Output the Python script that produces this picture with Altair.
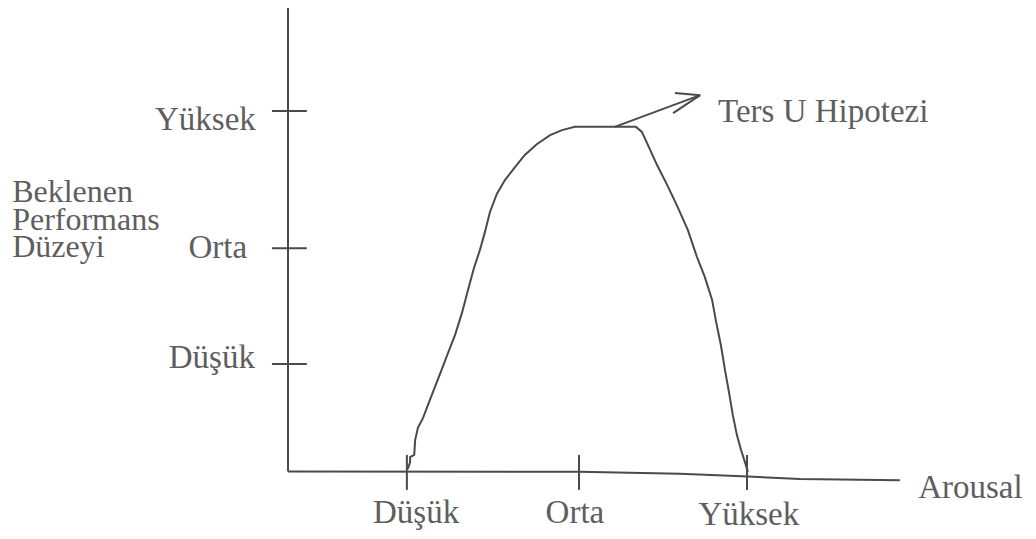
import altair as alt
import pandas as pd

# ---------------- data (arbitrary 0-100 units: 100 = "Yüksek") ----------------
arousal = [26.1, 26.6, 26.6, 27.5, 27.7, 28.3, 29.4, 30.9, 33.1, 34.6, 36.4, 37.9,
           39.2, 40.5, 41.8, 42.9, 44.0, 45.5, 47.3, 49.5, 51.6, 54.2, 57.1, 59.7,
           62.5, 75.8, 77.1, 78.9, 80.4, 82.6, 84.7, 87.1, 89.1, 90.8, 92.4, 93.2,
           94.3, 95.2, 96.1, 96.9, 97.8, 98.7, 99.6, 100.2]
performance = [0.7, 2.6, 4.0, 4.6, 8.7, 12.1, 14.8, 19.8, 27.0, 32.0, 37.9, 44.0,
               50.3, 56.4, 61.4, 66.4, 72.0, 77.0, 80.9, 84.5, 87.8, 90.8, 93.3, 94.7,
               95.6, 95.6, 94.2, 89.2, 85.0, 79.5, 73.9, 67.0, 59.5, 54.0, 47.6, 42.0,
               35.1, 28.2, 21.8, 15.7, 10.1, 6.0, 2.4, -0.1]

levels = ["Düşük", "Orta", "Yüksek"]
x_tick_values = [25.9, 63.4, 100.0]
y_tick_values = [29.8, 61.9, 100.0]

# label anchors (data units)
x_label_x = [27.9, 62.5, 100.4]
x_label_y = [-14.3, -14.3, -14.9]
y_label_x = [-7.2, -8.9, -7.0]
y_label_y = [28.7, 59.2, 94.7]

y_title_lines = ["Beklenen", "Performans", "Düzeyi"]
y_title_x = [-60.1, -60.1, -60.1]
y_title_y = [74.8, 67.1, 59.5]

x_title = ["Arousal"]
x_title_x = [137.3]
x_title_y = [-7.4]

note = ["Ters U Hipotezi"]
note_x = [93.7]
note_y = [96.9]

# hand-drawn axis lines
x_axis_x = [0, 63.4, 85.4, 100.2, 111.5, 133.3]
x_axis_y = [0, -0.1, -0.6, -1.4, -2.1, -2.4]
y_axis_top = 129.1
y_tick_span = [-3.5, 4.1]
x_tick_span = [4.6, -5.1]

# arrow segments (x, y, x2, y2)
arrow_x = [71.2, 84.3, 83.9]
arrow_y = [95.6, 105.0, 99.4]
arrow_x2 = [89.8, 89.8, 89.8]
arrow_y2 = [104.4, 104.4, 104.4]

# ---------------- layout ----------------
W, H = 1020, 523
X0, X100 = 280.0, 739.0      # view px of arousal 0 and 100
Y0, Y100 = 463.5, 103.0      # view px of performance 0 and 100
kx = (X100 - X0) / 100
ky = (Y0 - Y100) / 100
xs = alt.Scale(domain=[-X0 / kx, (W - X0) / kx], nice=False, zero=False)
ys = alt.Scale(domain=[-(H - Y0) / ky, Y0 / ky], nice=False, zero=False)

LINE = "#4a4a4a"
TEXT = "#5e5e5e"
FONT = "Liberation Serif"
FS = 33


def X(f):
    return alt.X(f, type="quantitative", scale=xs, axis=None)


def Y(f):
    return alt.Y(f, type="quantitative", scale=ys, axis=None)


curve_df = pd.DataFrame({"x": arousal, "y": performance, "i": range(len(arousal))})
xaxis_df = pd.DataFrame({"x": x_axis_x, "y": x_axis_y, "i": range(len(x_axis_x))})
yaxis_df = pd.DataFrame({"x": [0], "y": [0], "y2": [y_axis_top]})
yt_df = pd.DataFrame({"x": [y_tick_span[0]] * 3, "x2": [y_tick_span[1]] * 3, "y": y_tick_values})
xt_df = pd.DataFrame({"x": x_tick_values, "y": [x_tick_span[0]] * 3, "y2": [x_tick_span[1]] * 3})
arrow_df = pd.DataFrame({"x": arrow_x, "y": arrow_y, "x2": arrow_x2, "y2": arrow_y2})
xl_df = pd.DataFrame({"t": levels, "x": x_label_x, "y": x_label_y})
yl_df = pd.DataFrame({"t": levels, "x": y_label_x, "y": y_label_y})
title_df = pd.DataFrame({"t": y_title_lines, "x": y_title_x, "y": y_title_y})
xtitle_df = pd.DataFrame({"t": x_title, "x": x_title_x, "y": x_title_y})
note_df = pd.DataFrame({"t": note, "x": note_x, "y": note_y})

yaxis = alt.Chart(yaxis_df).mark_rule(color=LINE, strokeWidth=2).encode(
    x=X("x"), y=Y("y"), y2="y2")
xaxis = alt.Chart(xaxis_df).mark_line(color=LINE, strokeWidth=2).encode(
    x=X("x"), y=Y("y"), order="i:Q")
yticks = alt.Chart(yt_df).mark_rule(color=LINE, strokeWidth=2).encode(
    x=X("x"), x2="x2", y=Y("y"))
xticks = alt.Chart(xt_df).mark_rule(color=LINE, strokeWidth=2).encode(
    x=X("x"), y=Y("y"), y2="y2")
curve = alt.Chart(curve_df).mark_line(color=LINE, strokeWidth=2, interpolate="linear").encode(
    x=X("x"), y=Y("y"), order="i:Q")
arrow = alt.Chart(arrow_df).mark_rule(color=LINE, strokeWidth=2).encode(
    x=X("x"), y=Y("y"), x2="x2", y2="y2")


def text_layer(df, align, size=FS):
    return alt.Chart(df).mark_text(font=FONT, fontSize=size, color=TEXT, align=align,
                                   baseline="alphabetic").encode(x=X("x"), y=Y("y"), text="t:N")


chart = alt.layer(
    yaxis, xaxis, yticks, xticks, curve, arrow,
    text_layer(xl_df, "center"),
    text_layer(yl_df, "right"),
    text_layer(title_df, "left", 32),
    text_layer(xtitle_df, "left"),
    text_layer(note_df, "left"),
).properties(
    width=W, height=H, padding=0, autosize=alt.AutoSizeParams(type="none"),
    background="white",
).configure_view(stroke=None)

chart.save("out.html", embed_options={"renderer": "svg", "actions": False})
